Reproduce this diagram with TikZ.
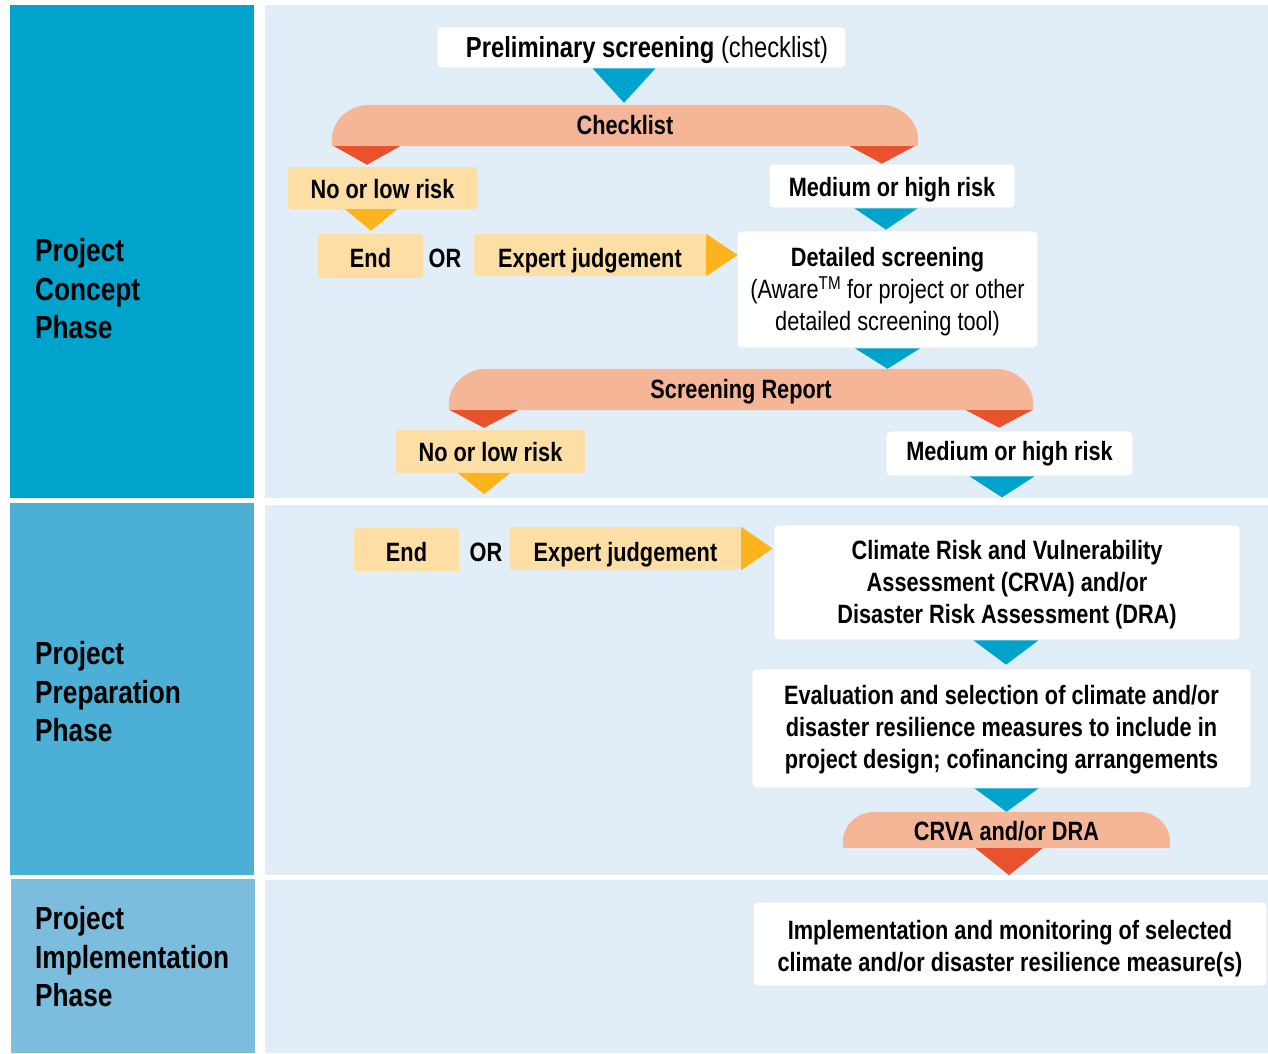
\documentclass[tikz,border=0pt]{standalone}
\usepackage{fontspec}
\setmainfont{Liberation Sans}[FakeStretch=0.82]
\usetikzlibrary{calc}
\definecolor{phaseA}{RGB}{0,163,204}
\definecolor{phaseB}{RGB}{76,175,213}
\definecolor{phaseC}{RGB}{124,189,222}
\definecolor{panel}{RGB}{225,238,247}
\definecolor{bannerc}{RGB}{245,182,151}
\definecolor{redtri}{RGB}{232,83,45}
\definecolor{boxY}{RGB}{253,222,164}
\definecolor{yeltri}{RGB}{251,180,29}
\definecolor{bluetri}{RGB}{0,163,204}
\newcommand\mainfs{\fontsize{26.5}{32}\selectfont}
\newcommand\prefs{\fontsize{29}{34}\selectfont}
\newcommand\phasefs{\fontsize{32}{38.5}\selectfont}
\pgfdeclarelayer{bglayer}
\pgfdeclarelayer{midlayer}
\pgfsetlayers{bglayer,midlayer,main}
% banner shape under a named node: name, rx, ry
\newcommand\bannershape[3]{%
  \begin{pgfonlayer}{midlayer}
  \fill[bannerc] (#1.south west) -- ($(#1.north west)+(0,#3)$)
    .. controls ($(#1.north west)+(0,0.45*#3)$) and ($(#1.north west)+(0.45*#2,0)$) .. ($(#1.north west)+(#2,0)$)
    -- ($(#1.north east)+(-#2,0)$)
    .. controls ($(#1.north east)+(-0.45*#2,0)$) and ($(#1.north east)+(0,0.45*#3)$) .. ($(#1.north east)+(0,#3)$)
    -- (#1.south east) -- cycle;
  \end{pgfonlayer}}
% down-pointing triangle connector: colour, source node, apex point, half width
\newcommand\contri[4]{%
  \fill[#1] let \p1=(#3), \p2=(#2.south) in (\x1-#4 pt,\y2) -- (\x1+#4 pt,\y2) -- (\p1) -- cycle;}
\tikzset{
  wbox/.style={fill=white, draw=black!10, line width=0.7pt, rounded corners=4pt, inner sep=0pt, align=center, font=\mainfs, text depth=3.5pt},
  ybox/.style={fill=boxY, rounded corners=3pt, inner sep=0pt, align=center, font=\mainfs\bfseries, text depth=3.5pt},
  bantext/.style={inner sep=0pt, font=\mainfs\bfseries, text depth=3.5pt},
  phase/.style={anchor=west, align=left, inner sep=0pt, font=\phasefs\bfseries},
  ortext/.style={inner sep=0pt, font=\mainfs\bfseries},
}
\begin{document}
\begin{tikzpicture}[x=1pt,y=-1pt]
\useasboundingbox (0,0) rectangle (1268,1053);
\begin{pgfonlayer}{bglayer}
\fill[white] (0,0) rectangle (1268,1053);
\fill[phaseA] (10,5) rectangle (254,498);
\fill[phaseB] (10,503) rectangle (254,875);
\fill[phaseC] (11,879) rectangle (255,1053);
\fill[panel] (265,5) rectangle (1268,498);
\fill[panel] (265,505) rectangle (1268,875);
\fill[panel] (265,880) rectangle (1268,1053);
\end{pgfonlayer}

% phase labels
\node[phase] (ph1) at (35,289) {Project\\Concept\\Phase};
\node[phase] (ph2) at (35,692) {Project\\Preparation\\Phase};
\node[phase] (ph3) at (35,957) {Project\\Implementation\\Phase};

% concept phase
\node[wbox, font=\prefs, text height=23.3pt, minimum width=409pt, minimum height=41pt] (pre) at (641.5,47.5) {\hspace*{11pt}\textbf{Preliminary screening} (checklist)};
\node[bantext, text height=21.5pt, minimum width=586pt, minimum height=41pt] (chk) at (625,125.5) {Checklist};
\bannershape{chk}{38}{35}
\node[ybox, text height=24.5pt, minimum width=189pt, minimum height=42pt] (nlr1) at (382.5,188) {No or low risk};
\node[wbox, font=\mainfs\bfseries, text height=24.5pt, minimum width=246pt, minimum height=44pt] (mhr1) at (892,186) {Medium or high risk};
\node[ybox, text height=26.5pt, minimum width=105pt, minimum height=44pt] (end1) at (370.5,256) {End};
\node[ortext] (or1) at (445,258) {OR};
\node[ybox, text height=28.5pt, minimum width=232pt, minimum height=42pt] (exp1) at (590,255) {Expert judgement};
\node[wbox, text height=85.5pt, minimum width=301pt, minimum height=117pt] (det) at (887.5,289.5) {\textbf{Detailed screening}\\(Aware\textsuperscript{TM} for project or other\\detailed screening tool)};
\node[bantext, text height=21.5pt, minimum width=584pt, minimum height=41pt] (sr) at (741,389.5) {Screening Report};
\bannershape{sr}{38}{35}
\node[ybox, text height=23.5pt, minimum width=189pt, minimum height=43pt] (nlr2) at (490.5,451.5) {No or low risk};
\node[wbox, font=\mainfs\bfseries, text height=17.5pt, minimum width=247pt, minimum height=45pt] (mhr2) at (1009.5,453.5) {Medium or high risk};

% preparation phase
\node[ybox, text height=27.5pt, minimum width=105pt, minimum height=43pt] (end2) at (406.5,549.5) {End};
\node[ortext] (or2) at (486,552) {OR};
\node[ybox, text height=29.5pt, minimum width=231pt, minimum height=43pt] (exp2) at (625.5,548.5) {Expert judgement};
\node[wbox, font=\mainfs\bfseries, text height=85.5pt, minimum width=466pt, minimum height=115pt] (crva) at (1007,582.5) {Climate Risk and Vulnerability\\Assessment (CRVA) and/or\\Disaster Risk Assessment (DRA)};
\node[wbox, font=\mainfs\bfseries, text height=83.5pt, minimum width=499pt, minimum height=119pt] (eval) at (1001.5,728.5) {Evaluation and selection of climate and/or\\disaster resilience measures to include in\\project design; cofinancing arrangements};
\node[bantext, text height=24.5pt, minimum width=327pt, minimum height=36pt] (cd) at (1006.5,830) {CRVA and/or DRA};
\bannershape{cd}{32}{30}

% implementation phase
\node[wbox, font=\mainfs\bfseries, text height=58.5pt, minimum width=514pt, minimum height=84pt] (impl) at (1010,944) {Implementation and monitoring of selected\\climate and/or disaster resilience measure(s)};

% triangle connectors
\contri{bluetri}{pre}{$(chk.north)+(-1,-2)$}{31.5}
\contri{redtri}{chk}{$(nlr1.north)+(-15.5,-2)$}{33}
\contri{redtri}{chk}{$(mhr1.north)+(-10,0)$}{32.5}
\contri{yeltri}{nlr1}{$(end1.north)+(0.5,-3)$}{26}
\contri{bluetri}{mhr1}{$(det.north)+(-1.5,-1)$}{31.5}
\fill[yeltri] (exp1.north east) -- (exp1.south east) -- ($(exp1.east -| det.west)+(1,0)$) -- cycle;
\contri{bluetri}{det}{$(det.south |- sr.north)$}{32.5}
\contri{redtri}{sr}{$(nlr2.north)+(-6.5,-2)$}{34}
\contri{redtri}{sr}{$(mhr2.north)+(-10.5,-3)$}{33}
\contri{yeltri}{nlr2}{$(nlr2.south)+(-6.5,21)$}{26}
\contri{bluetri}{mhr2}{$(mhr2.south)+(-7.5,21)$}{32.5}
\fill[yeltri] (exp2.north east) -- (exp2.south east) -- ($(exp2.east -| crva.west)+(-1,0)$) -- cycle;
\contri{bluetri}{crva}{$(crva.south |- eval.north)+(-1,-4)$}{32.5}
\contri{bluetri}{eval}{$(cd.north)$}{32}
\contri{redtri}{cd}{$(cd.south)+(2.5,27)$}{33.5}
\end{tikzpicture}
\end{document}
